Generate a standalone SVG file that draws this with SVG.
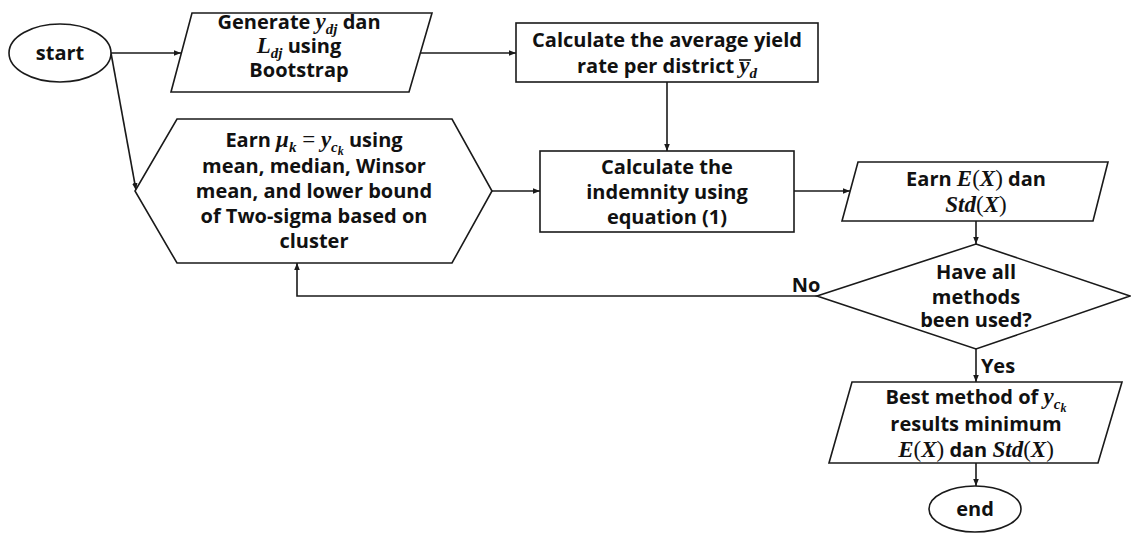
<svg xmlns="http://www.w3.org/2000/svg" width="1131" height="535" viewBox="0 0 1131 535">
<defs>
<marker id="ah" viewBox="0 0 10 10" refX="10" refY="5" markerWidth="7" markerHeight="7" markerUnits="userSpaceOnUse" orient="auto">
<path d="M0,1 L10,5 L0,9 z" fill="#1a1a1a"/>
</marker>
<style>
.sh{fill:#fff;stroke:#1a1a1a;stroke-width:1.6}
.c{fill:none;stroke:#1a1a1a;stroke-width:1.6}
.t{font-family:"Open Sans","Liberation Sans",sans-serif;font-weight:700;font-size:20px;fill:#111;text-anchor:middle}
.m{font-family:"Liberation Serif",serif;font-style:italic;font-weight:700;font-size:23px}
.r{font-family:"Liberation Serif",serif;font-style:normal;font-weight:400;font-size:23px}
.s{font-size:15px}
.ss{font-size:12px}
</style>
</defs>
<rect width="1131" height="535" fill="#fff"/>

<g id="connectors">
<line class="c" x1="111" y1="53" x2="181" y2="53" marker-end="url(#ah)"/>
<line class="c" x1="111" y1="53" x2="136" y2="190" marker-end="url(#ah)"/>
<line class="c" x1="421" y1="53" x2="516" y2="53" marker-end="url(#ah)"/>
<line class="c" x1="667" y1="82" x2="667" y2="151" marker-end="url(#ah)"/>
<line class="c" x1="492" y1="191" x2="540" y2="191" marker-end="url(#ah)"/>
<line class="c" x1="794" y1="191" x2="850" y2="191" marker-end="url(#ah)"/>
<line class="c" x1="976" y1="221" x2="976" y2="244" marker-end="url(#ah)"/>
<polyline class="c" points="817,296 297,296 297,263" marker-end="url(#ah)"/>
<line class="c" x1="976" y1="349" x2="976" y2="382" marker-end="url(#ah)"/>
<line class="c" x1="976" y1="463" x2="976" y2="486" marker-end="url(#ah)"/>
<text class="t" x="806" y="292">No</text>
<text class="t" x="998" y="373">Yes</text>
</g>

<g id="start">
<ellipse class="sh" cx="60" cy="53" rx="51" ry="29"/>
<text class="t" x="60" y="60">start</text>
</g>

<g id="generate">
<polygon class="sh" points="192,13 432,13 409,92 171,92"/>
<text class="t" x="299" y="29">Generate <tspan class="m">y</tspan><tspan class="m s" dy="5">dj</tspan><tspan dy="-5"> dan</tspan></text>
<text class="t" x="299" y="53"><tspan class="m">L</tspan><tspan class="m s" dy="5">dj</tspan><tspan dy="-5"> using</tspan></text>
<text class="t" x="299" y="77">Bootstrap</text>
</g>

<g id="average">
<rect class="sh" x="516" y="23" width="302" height="59"/>
<text class="t" x="667" y="47">Calculate the average yield</text>
<text class="t" x="667" y="73">rate per district <tspan class="m">y</tspan><tspan class="m s" dy="5">d</tspan></text>
<line x1="739" y1="60" x2="751" y2="60" stroke="#111" stroke-width="1.6"/>
</g>

<g id="earn-mu">
<polygon class="sh" points="177,119 452,119 492,191 452,263 177,263 135,191"/>
<text class="t" x="314" y="147">Earn <tspan class="m">μ</tspan><tspan class="m s" dy="5">k</tspan><tspan class="r" dy="-5"> = </tspan><tspan class="m">y</tspan><tspan class="m s" dy="5">c</tspan><tspan class="m ss" dy="3">k</tspan><tspan dy="-8"> using</tspan></text>
<text class="t" x="314" y="173">mean, median, Winsor</text>
<text class="t" x="314" y="198">mean, and lower bound</text>
<text class="t" x="314" y="223">of Two-sigma based on</text>
<text class="t" x="314" y="248">cluster</text>
</g>

<g id="indemnity">
<rect class="sh" x="540" y="151" width="254" height="81"/>
<text class="t" x="667" y="174">Calculate the</text>
<text class="t" x="667" y="199">indemnity using</text>
<text class="t" x="667" y="224">equation (1)</text>
</g>

<g id="earn-ex">
<polygon class="sh" points="858,162 1108,162 1093,221 842,221"/>
<text class="t" x="976" y="186">Earn <tspan class="m">E</tspan><tspan class="r">(</tspan><tspan class="m">X</tspan><tspan class="r">)</tspan> dan</text>
<text class="t" x="976" y="212"><tspan class="m">Std</tspan><tspan class="r">(</tspan><tspan class="m">X</tspan><tspan class="r">)</tspan></text>
</g>

<g id="decision">
<polygon class="sh" points="976,244 1130,296 976,349 817,296"/>
<text class="t" x="976" y="279">Have all</text>
<text class="t" x="976" y="304">methods</text>
<text class="t" x="976" y="327">been used?</text>
</g>

<g id="best">
<polygon class="sh" points="852,382 1122,382 1098,463 829,463"/>
<text class="t" x="976" y="404">Best method of <tspan class="m">y</tspan><tspan class="m s" dy="5">c</tspan><tspan class="m ss" dy="3">k</tspan></text>
<text class="t" x="976" y="431">results minimum</text>
<text class="t" x="976" y="457"><tspan class="m">E</tspan><tspan class="r">(</tspan><tspan class="m">X</tspan><tspan class="r">)</tspan> dan <tspan class="m">Std</tspan><tspan class="r">(</tspan><tspan class="m">X</tspan><tspan class="r">)</tspan></text>
</g>

<g id="end">
<ellipse class="sh" cx="975" cy="509" rx="46" ry="23"/>
<text class="t" x="975" y="516">end</text>
</g>
</svg>
